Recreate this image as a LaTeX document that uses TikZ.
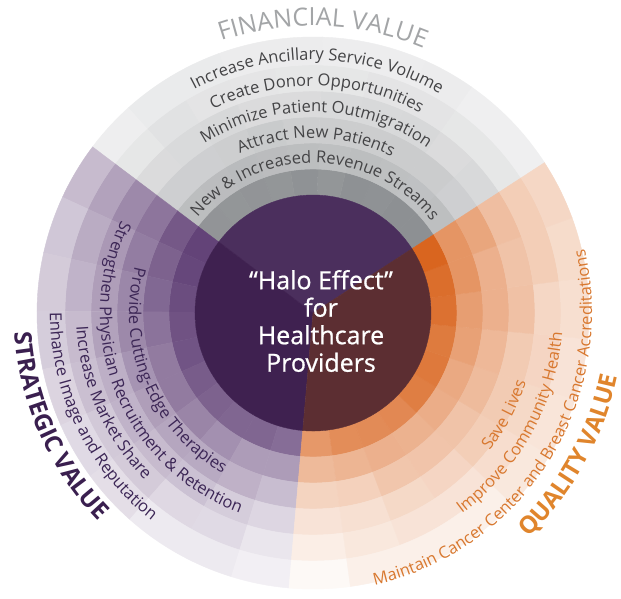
\documentclass[tikz,border=0pt]{standalone}
\usepackage{fontspec}
\setmainfont{Open Sans}
\newfontfamily\halofamily[FakeBold=0.8]{Open Sans}
\usetikzlibrary{decorations.text}

\definecolor{grayring}{HTML}{8D9093}
\definecolor{purpring}{HTML}{5E3D74}
\definecolor{orngring}{HTML}{D9651F}
\definecolor{graycore}{HTML}{4B2F5D}
\definecolor{purpcore}{HTML}{3F2150}
\definecolor{orngcore}{HTML}{5C2E32}
\definecolor{graytext}{HTML}{444446}
\definecolor{purptext}{HTML}{3C2656}
\definecolor{orngtext}{HTML}{D8782F}
\definecolor{graytitle}{HTML}{A3A5A7}
\definecolor{purptitle}{HTML}{3A1F4F}
\definecolor{orngtitle}{HTML}{E0852C}

\newcommand{\ringfont}{\fontsize{16.5}{16.5}\selectfont}
\newcommand{\titlefont}{\fontsize{25}{25}\selectfont}
\newcommand{\boldtitlefont}{\fontsize{24}{24}\selectfont\bfseries}
\newcommand{\halofont}{\halofamily\fontsize{25}{27.5}\selectfont}

\tikzset{
  cell/.style={fill=#1, draw=#1, line width=0.4pt},
  arctext/.style 2 args={decorate, decoration={text along path, text align=center, text={|#1|#2}}},
}

% one sector of the halo: start, end, colour, inner-to-outer shades at the start and at the end
\newcommand{\haloring}[5]{%
  \foreach \k in {0,...,5}{%
    \foreach \j in {0,...,9}{%
      \pgfmathsetmacro\radA{{118,144,170,196,222,248}[\k]}%
      \pgfmathsetmacro\radB{{144,170,196,222,248,276}[\k]}%
      \pgfmathsetmacro\angA{#1+(#2-#1)*\j/10}%
      \pgfmathsetmacro\angB{#1+(#2-#1)*(\j+1)/10}%
      \pgfmathsetmacro\pos{(\j+0.5)/10}%
      \pgfmathtruncatemacro\pct{max(3,min(100,{#4}[\k]+({#5}[\k]-{#4}[\k])*\pos+5*(rnd-0.5)))}%
      \fill[cell=#3!\pct!white] (\angA:\radA) arc[start angle=\angA, end angle=\angB, radius=\radA]
        -- (\angB:\radB) arc[start angle=\angB, end angle=\angA, radius=\radB] -- cycle;
    }%
  }%
}

\begin{document}
\begin{tikzpicture}[x=1pt, y=1pt]
    \path[use as bounding box, fill=white] (-313,-285) rectangle (308,313);
    \pgfmathsetseed{11}

    \haloring{33}{143}{grayring}{100,58,45,34,24,16}{96,60,46,35,25,17}
    \haloring{143}{265}{purpring}{100,88,75,62,50,36}{74,48,33,21,12,6}
    \haloring{265}{393}{orngring}{68,42,28,18,11,6}{100,72,58,46,35,25}

    \fill[cell=graycore] (0,0) -- (33:118) arc[start angle=33, end angle=143, radius=118] -- cycle;
    \fill[cell=purpcore] (0,0) -- (143:118) arc[start angle=143, end angle=265, radius=118] -- cycle;
    \fill[cell=orngcore] (0,0) -- (265:118) arc[start angle=265, end angle=393, radius=118] -- cycle;

    \node[text=white, align=center, font=\halofont] (halo) at (8,-8) {“Halo Effect”\\for\\Healthcare\\Providers};

    \path[arctext={\titlefont\color{graytitle}}{FINANCIAL VALUE}] (173:287) arc[start angle=173, end angle=3, radius=287];
    \path[arctext={\ringfont\color{graytext}}{Increase Ancillary Service Volume}] (174:253) arc[start angle=174, end angle=4, radius=253];
    \path[arctext={\ringfont\color{graytext}}{Create Donor Opportunities}] (174:227) arc[start angle=174, end angle=4, radius=227];
    \path[arctext={\ringfont\color{graytext}}{Minimize Patient Outmigration}] (174:201) arc[start angle=174, end angle=4, radius=201];
    \path[arctext={\ringfont\color{graytext}}{Attract New Patients}] (174:175) arc[start angle=174, end angle=4, radius=175];
    \path[arctext={\ringfont\color{graytext}}{New {\&} Increased Revenue Streams}] (174:150) arc[start angle=174, end angle=4, radius=150];

    \path[arctext={\boldtitlefont\color{purptitle}}{STRATEGIC VALUE}] (119:299) arc[start angle=119, end angle=289, radius=299];
    \path[arctext={\ringfont\color{purptext}}{Enhance Image and Reputation}] (121:263) arc[start angle=121, end angle=291, radius=263];
    \path[arctext={\ringfont\color{purptext}}{Increase Market Share}] (119:237) arc[start angle=119, end angle=289, radius=237];
    \path[arctext={\ringfont\color{purptext}}{Strengthen Physician Recruitment {\&} Retention}] (117:213) arc[start angle=117, end angle=287, radius=213];
    \path[arctext={\ringfont\color{purptext}}{Provide Cutting-Edge Therapies}] (118:184) arc[start angle=118, end angle=288, radius=184];

    \path[arctext={\boldtitlefont\color{orngtitle}}{QUALITY VALUE}] (-114:311) arc[start angle=-114, end angle=56, radius=311];
    \path[arctext={\ringfont\color{orngtext}}{Maintain Cancer Center and Breast Cancer Accreditations}] (-117:279) arc[start angle=-117, end angle=53, radius=279];
    \path[arctext={\ringfont\color{orngtext}}{Improve Community Health}] (-114:250) arc[start angle=-114, end angle=56, radius=250];
    \path[arctext={\ringfont\color{orngtext}}{Save Lives}] (-113:224) arc[start angle=-113, end angle=57, radius=224];
\end{tikzpicture}
\end{document}
